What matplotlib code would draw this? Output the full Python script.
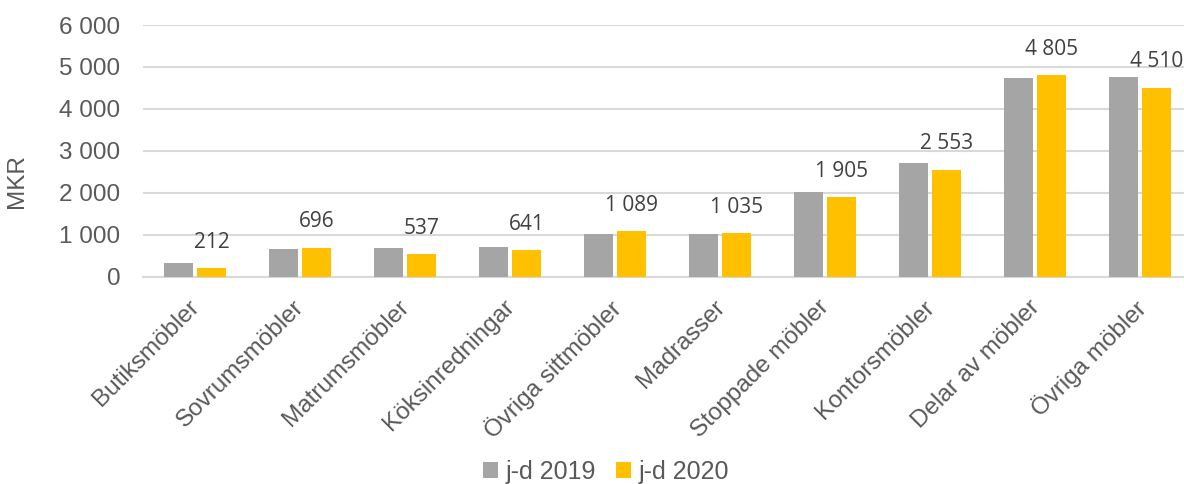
import matplotlib.pyplot as plt
import matplotlib.transforms as mtransforms
import numpy as np

categories = ['Butiksmöbler', 'Sovrumsmöbler', 'Matrumsmöbler', 'Köksinredningar',
              'Övriga sittmöbler', 'Madrasser', 'Stoppade möbler', 'Kontorsmöbler',
              'Delar av möbler', 'Övriga möbler']
y_2019 = [325, 670, 690, 705, 1015, 1025, 2030, 2700, 4730, 4770]
y_2020 = [212, 696, 537, 641, 1089, 1035, 1905, 2553, 4805, 4510]
yticks = [0, 1000, 2000, 3000, 4000, 5000, 6000]


def fmt(v):
    return f"{v:,}".replace(",", " ")


plt.rcParams['font.family'] = ['Liberation Sans', 'DejaVu Sans']
txt_col = '#595959'
fs = 17.5

fig = plt.figure(figsize=(11.84, 4.84), dpi=100)
ax = fig.add_axes([0.1204, 0.4283, 0.8872, 0.52])

x = np.arange(len(categories))
w = 0.276
ax.bar(x - 0.157, y_2019, w, color='#a5a5a5', label='j-d 2019', zorder=3)
ax.bar(x + 0.157, y_2020, w, color='#ffc000', label='j-d 2020', zorder=3)

# etiketter bara for 2020
for xi, v in zip(x, y_2020):
    ax.annotate(fmt(v), xy=(xi + 0.157, v), xytext=(0, 18.5), textcoords='offset points',
                ha='center', va='center', fontsize=15, color='#404040',
                family=['Open Sans', 'DejaVu Sans'])

ax.set_xlim(-0.5, len(categories) - 0.5)
ax.set_ylim(0, 6000)
ax.set_yticks(yticks)
ax.set_yticklabels([fmt(t) for t in yticks])
ax.yaxis.grid(True, color='#d9d9d9', linewidth=1.5, zorder=0)
ax.set_axisbelow(True)
for s in ['top', 'right', 'left']:
    ax.spines[s].set_visible(False)
ax.spines['bottom'].set_color('#d9d9d9')
ax.spines['bottom'].set_linewidth(1.5)

ax.tick_params(axis='y', length=0, pad=16, labelsize=fs, labelcolor=txt_col)
ax.tick_params(axis='x', length=0, pad=14, labelsize=fs, labelcolor=txt_col)
ax.set_xticks(x)
ax.set_xticklabels(categories, rotation=45, ha='right', va='top', rotation_mode='anchor')
shift = mtransforms.ScaledTranslation(-5 / 72, 0, fig.dpi_scale_trans)
for lab in ax.get_xticklabels():
    lab.set_transform(lab.get_transform() + shift)

ax.set_ylabel('MKR', fontsize=fs, color=txt_col)
ax.yaxis.set_label_coords(-0.109, 0.38)

fig.legend(loc='center', bbox_to_anchor=(0.512, 0.025), ncol=2, frameon=False,
           fontsize=18, labelcolor=txt_col, handlelength=0.6, handleheight=0.6,
           handletextpad=0.3, columnspacing=0.8)

fig.savefig('out.png', dpi=100)
